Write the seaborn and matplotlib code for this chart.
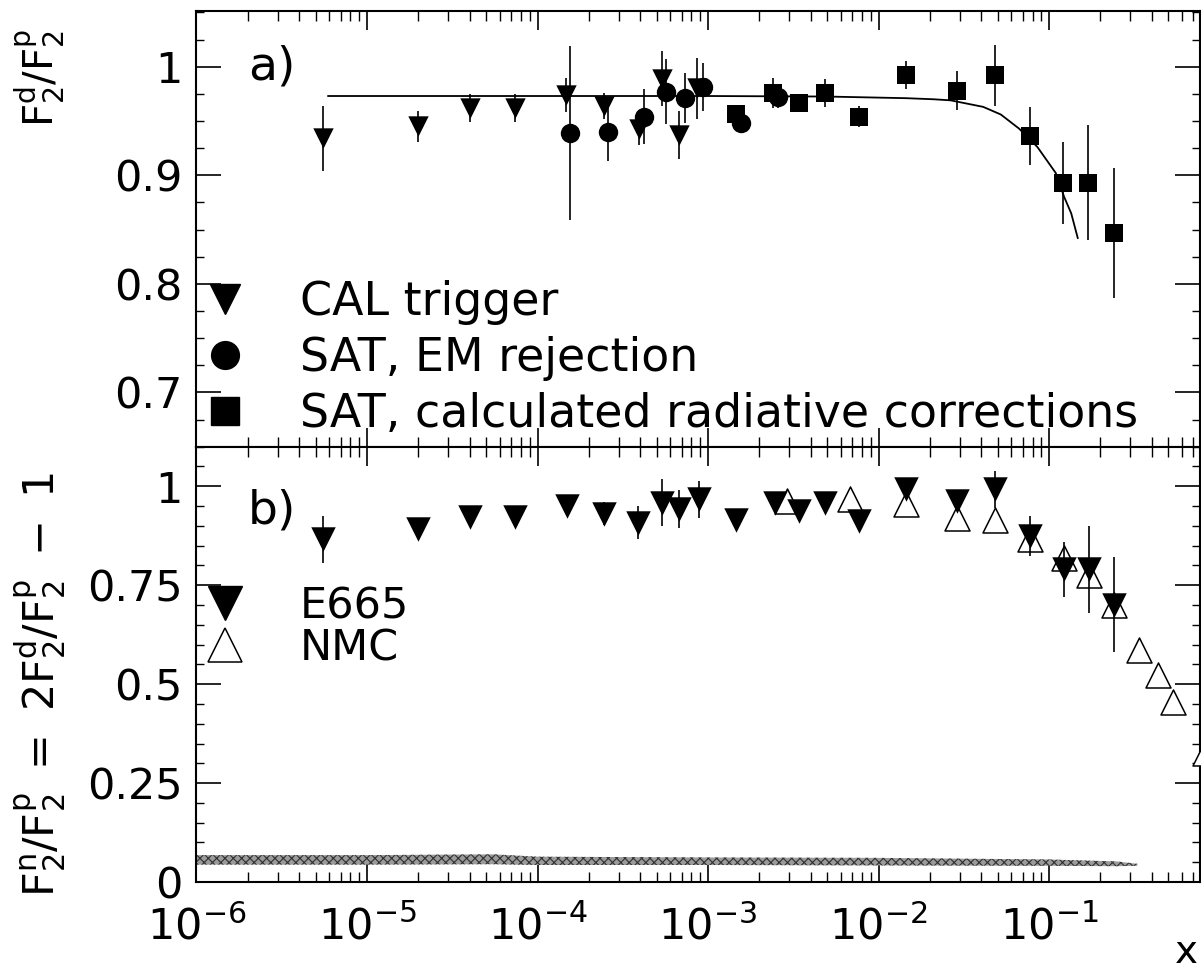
import numpy as np
import pandas as pd
import matplotlib
matplotlib.use('Agg')
import matplotlib.pyplot as plt
from matplotlib.lines import Line2D
from matplotlib.ticker import LogLocator, MultipleLocator, FixedLocator, FixedFormatter, NullFormatter
import seaborn as sns

# ---- panel a) F2d/F2p ----
cal_x = [5.5e-6, 2.0e-5, 4.0e-5, 7.4e-5, 1.47e-4, 2.45e-4, 3.95e-4, 5.4e-4, 6.8e-4, 8.6e-4]
cal_y = [0.934, 0.945, 0.962, 0.962, 0.974, 0.964, 0.943, 0.989, 0.937, 0.980]
cal_err = [0.030, 0.014, 0.013, 0.013, 0.016, 0.012, 0.015, 0.025, 0.022, 0.028]

em_x = [1.55e-4, 2.6e-4, 4.2e-4, 5.7e-4, 7.3e-4, 9.3e-4, 1.56e-3, 2.58e-3]
em_y = [0.939, 0.940, 0.954, 0.977, 0.971, 0.981, 0.948, 0.972]
em_err = [0.080, 0.027, 0.025, 0.030, 0.023, 0.022, 0.008, 0.010]

sq_x = [1.46e-3, 2.42e-3, 3.42e-3, 4.85e-3, 7.7e-3, 0.0145, 0.029, 0.048, 0.077, 0.120, 0.169, 0.240]
sq_y = [0.956, 0.976, 0.967, 0.976, 0.954, 0.992, 0.978, 0.992, 0.936, 0.893, 0.893, 0.847]
sq_err = [0.008, 0.014, 0.008, 0.013, 0.010, 0.013, 0.018, 0.028, 0.027, 0.038, 0.053, 0.060]

fit_x = [5.9e-6, 1e-5, 1e-4, 1e-3, 5e-3, 0.0145, 0.021, 0.0265, 0.0411, 0.0521,
         0.0667, 0.0855, 0.1096, 0.1227, 0.1349, 0.1475]
fit_y = [0.973, 0.973, 0.973, 0.973, 0.9725, 0.971, 0.970, 0.969, 0.963, 0.956,
         0.943, 0.926, 0.902, 0.880, 0.865, 0.842]

# ---- panel b) F2n/F2p ----
e665_x = [5.5e-6, 2.0e-5, 4.0e-5, 7.4e-5, 1.48e-4, 2.46e-4, 3.9e-4, 5.36e-4, 6.8e-4, 8.8e-4,
          1.46e-3, 2.47e-3, 3.43e-3, 4.85e-3, 7.7e-3, 0.0145, 0.029, 0.0482, 0.0773, 0.1227, 0.171, 0.241]
e665_y = [0.866, 0.891, 0.923, 0.923, 0.950, 0.931, 0.908, 0.959, 0.942, 0.967,
          0.916, 0.957, 0.938, 0.957, 0.912, 0.994, 0.963, 0.992, 0.874, 0.790, 0.790, 0.701]
e665_err = [0.06, 0.01, 0.01, 0.01, 0.01, 0.03, 0.042, 0.06, 0.048, 0.047,
            0.01, 0.01, 0.01, 0.01, 0.01, 0.02, 0.02, 0.046, 0.05, 0.07, 0.11, 0.12]

nmc_x = [2.92e-3, 6.8e-3, 0.0145, 0.029, 0.0482, 0.0773, 0.1227, 0.171, 0.241, 0.339, 0.438, 0.536, 0.82]
nmc_y = [0.963, 0.967, 0.954, 0.921, 0.916, 0.868, 0.819, 0.775, 0.701, 0.587, 0.524, 0.454, 0.326]

# systematic error band
band_x = [1e-6, 1e-5, 5.5e-5, 1e-4, 1e-3, 1e-2, 0.1, 0.25, 0.33]
band_lo = [0.044, 0.044, 0.045, 0.043, 0.043, 0.042, 0.041, 0.040, 0.041]
band_hi = [0.068, 0.068, 0.070, 0.064, 0.062, 0.061, 0.057, 0.052, 0.046]

xticks = [1e-6, 1e-5, 1e-4, 1e-3, 1e-2, 1e-1]
xtick_labels = [r'$10^{-6}$', r'$10^{-5}$', r'$10^{-4}$', r'$10^{-3}$', r'$10^{-2}$', r'$10^{-1}$']

sns.set_theme(style='ticks')
plt.rcParams['font.family'] = ['DejaVu Sans']
plt.rcParams['mathtext.default'] = 'regular'
plt.rcParams['hatch.linewidth'] = 0.8
plt.rcParams['text.color'] = 'black'

fig = plt.figure(figsize=(12.01, 9.73), dpi=100)
ax_a = fig.add_axes([0.1636, 0.5409, 0.8356, 0.4478])
ax_b = fig.add_axes([0.1636, 0.0935, 0.8356, 0.4474])

for ax in (ax_a, ax_b):
    ax.set_xscale('log')

# panel a
ax_a.errorbar(cal_x, cal_y, yerr=cal_err, fmt='none', ecolor='black', elinewidth=1.2, zorder=2)
ax_a.errorbar(em_x, em_y, yerr=em_err, fmt='none', ecolor='black', elinewidth=1.2, zorder=2)
ax_a.errorbar(sq_x, sq_y, yerr=sq_err, fmt='none', ecolor='black', elinewidth=1.2, zorder=2)
sns.lineplot(x=fit_x, y=fit_y, color='black', linewidth=1.3, sort=False, estimator=None, ax=ax_a, zorder=2)
sns.scatterplot(x=cal_x, y=cal_y, marker='v', s=215, color='black', linewidth=0, ax=ax_a, zorder=3)
sns.scatterplot(x=em_x, y=em_y, marker='o', s=195, color='black', linewidth=0, ax=ax_a, zorder=3)
sns.scatterplot(x=sq_x, y=sq_y, marker='s', s=180, color='black', linewidth=0, ax=ax_a, zorder=3)

# panel b
ax_b.fill_between(band_x, band_lo, band_hi, facecolor='#9a9a9a', edgecolor='#303030',
                  hatch='xxxx', linewidth=0, zorder=1)
sns.scatterplot(x=nmc_x, y=nmc_y, marker='^', s=324, color='white', edgecolor='black',
                linewidth=1.1, ax=ax_b, zorder=3)
ax_b.errorbar(e665_x, e665_y, yerr=e665_err, fmt='none', ecolor='black', elinewidth=1.2, zorder=4)
sns.scatterplot(x=e665_x, y=e665_y, marker='v', s=310, color='black', linewidth=0, ax=ax_b, zorder=5)

# axes styling
xmax = 10 ** (-6 + 1003.5 / 170.5)
for ax in (ax_a, ax_b):
    ax.set_xlim(1e-6, xmax)
    ax.xaxis.set_major_locator(FixedLocator(xticks))
    ax.xaxis.set_minor_locator(LogLocator(base=10, subs=np.arange(2, 10), numticks=100))
    ax.xaxis.set_minor_formatter(NullFormatter())
    for sp in ax.spines.values():
        sp.set_visible(True)
        sp.set_color('black')
        sp.set_linewidth(1.5)
    ax.tick_params(axis='both', which='both', direction='in', top=True, right=True,
                   bottom=True, left=True, colors='black')
    ax.tick_params(axis='x', which='major', length=14, width=1.2)
    ax.tick_params(axis='x', which='minor', length=7, width=1.0)
    ax.tick_params(axis='y', which='major', length=18, width=1.2, labelsize=31, pad=10)
    ax.tick_params(axis='y', which='minor', length=6, width=1.0)
    ax.set_xlabel('')
    ax.set_ylabel('')

ax_a.set_ylim(0.65, 1.0513)
ax_a.yaxis.set_major_locator(FixedLocator([0.7, 0.8, 0.9, 1.0]))
ax_a.yaxis.set_major_formatter(FixedFormatter(['0.7', '0.8', '0.9', '1']))
ax_a.yaxis.set_minor_locator(MultipleLocator(0.025))
ax_a.xaxis.set_major_formatter(NullFormatter())

ax_b.set_ylim(0, 1.1)
ax_b.yaxis.set_major_locator(FixedLocator([0, 0.25, 0.5, 0.75, 1.0]))
ax_b.yaxis.set_major_formatter(FixedFormatter(['0', '0.25', '0.5', '0.75', '1']))
ax_b.yaxis.set_minor_locator(MultipleLocator(0.05))
ax_b.xaxis.set_major_formatter(FixedFormatter(xtick_labels))
ax_b.tick_params(axis='x', which='major', labelsize=31, pad=17)

# panel labels
ax_a.text(0.075, 0.872, 'a)', transform=ax_a.transAxes, fontsize=34, ha='center', va='center')
ax_b.text(0.075, 0.853, 'b)', transform=ax_b.transAxes, fontsize=34, ha='center', va='center')

# legends
h_a = [Line2D([], [], marker='v', ls='none', color='black', markersize=21),
       Line2D([], [], marker='o', ls='none', color='black', markersize=20),
       Line2D([], [], marker='s', ls='none', color='black', markersize=20)]
ax_a.legend(h_a, ['CAL trigger', 'SAT, EM rejection', 'SAT, calculated radiative corrections'],
            loc='center left', bbox_to_anchor=(0.0085, 0.203), frameon=False, fontsize=33,
            handlelength=0.87, handletextpad=1.2, labelspacing=0.24, borderpad=0, borderaxespad=0)

h_b = [Line2D([], [], marker='v', ls='none', color='black', markersize=24),
       Line2D([], [], marker='^', ls='none', markerfacecolor='white', markeredgecolor='black',
              markeredgewidth=1.1, markersize=24)]
ax_b.legend(h_b, ['E665', 'NMC'], loc='center left', bbox_to_anchor=(0.0085, 0.585),
            frameon=False, fontsize=31, handlelength=0.93, handletextpad=1.28,
            labelspacing=0.0, borderpad=0, borderaxespad=0)

# axis titles
fig.text(40 / 1201, 1 - 78 / 973, r'$F_2^d/F_2^p$', rotation=90, ha='center', va='center', fontsize=29)
fig.text(40 / 1201, 1 - 685 / 973, r'$F_2^n/F_2^p\ =\ 2F_2^d/F_2^p\ -\ 1$', rotation=90,
         ha='center', va='center', fontsize=31)
fig.text(1186 / 1201, 1 - 952 / 973, 'x', ha='center', va='center', fontsize=28)

fig.savefig('out.png', dpi=100)
